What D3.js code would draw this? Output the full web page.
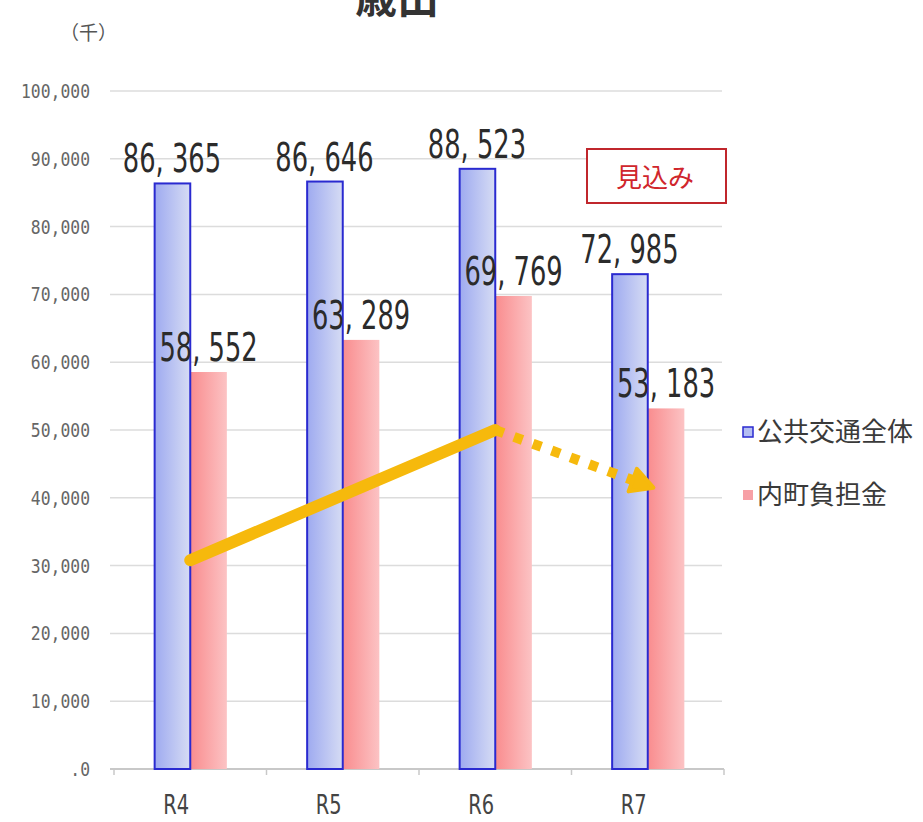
<!DOCTYPE html>
<html><head><meta charset="utf-8">
<script src="https://cdn.jsdelivr.net/npm/d3@7"></script>
<style>
html,body{margin:0;padding:0;background:#fff;}
svg{display:block;}
</style></head>
<body>
<script>
const categories = ["R4","R5","R6","R7"];
const seriesNames = ["公共交通全体","内町負担金"];
const totalValues = [86365, 86646, 88523, 72985];
const burdenValues = [58552, 63289, 69769, 53183];
const yTicks = [0,10000,20000,30000,40000,50000,60000,70000,80000,90000,100000];
const yTickLabels = [".0","10,000","20,000","30,000","40,000","50,000","60,000","70,000","80,000","90,000","100,000"];
const trendCats = ["R4","R6","R7"];
const trendValues = [30800, 50000, 41800];
const title = "歳出";
const unitLabel = "（千）";
const noteLabel = "見込み";

const W = 923, H = 822;
const svg = d3.select("body").append("svg").attr("width", W).attr("height", H);
const defs = svg.append("defs");
const gb = defs.append("linearGradient").attr("id","gBlue").attr("x1","0").attr("x2","1").attr("y1","0").attr("y2","0");
gb.append("stop").attr("offset","0").attr("stop-color","#9eaaf0");
gb.append("stop").attr("offset","1").attr("stop-color","#d6dcf4");
const gp = defs.append("linearGradient").attr("id","gPink").attr("x1","0").attr("x2","1").attr("y1","0").attr("y2","0");
gp.append("stop").attr("offset","0").attr("stop-color","#f98c8e");
gp.append("stop").attr("offset","1").attr("stop-color","#fcc3c4");

const y = d3.scaleLinear().domain([0,100000]).range([769,91]);
const x = d3.scaleBand().domain(categories).range([114,724]).paddingInner(0.52).paddingOuter(0.26);
const xs = d3.scaleBand().domain(seriesNames).range([0, x.bandwidth()]);

// Title (cut off at top, as in the reference)
svg.append("text").attr("x",397).attr("y",13).attr("text-anchor","middle")
  .attr("font-family","Noto Sans CJK JP").attr("font-weight","bold").attr("font-size",42)
  .attr("fill","#333").text(title);
svg.append("text").attr("x",60).attr("y",40)
  .attr("font-family","Noto Sans CJK JP").attr("font-size",19).attr("fill","#555").text(unitLabel);

// gridlines
svg.append("g").selectAll("line").data(yTicks.slice(1)).join("line")
  .attr("x1",110).attr("x2",722).attr("y1",d=>y(d)).attr("y2",d=>y(d))
  .attr("stroke","#dcdcdc").attr("stroke-width",1.5);

// y labels
svg.append("g").selectAll("text").data(yTicks).join("text")
  .attr("transform",(d)=>`translate(90,${y(d)+7}) scale(0.82,1)`)
  .attr("text-anchor","end").attr("font-family","DejaVu Sans Mono").attr("font-size",20)
  .attr("fill","#666").text((d,i)=>yTickLabels[i]);

// x axis
const xAxis = d3.axisBottom(x).tickSize(0).tickFormat("");
const gx = svg.append("g").attr("transform","translate(0,769)").call(xAxis);
gx.select(".domain").attr("stroke","#c8c8c8").attr("stroke-width",2).attr("d","M110,0H724");
const bounds = categories.map(c=>x(c)-x.step()*x.paddingInner()/2).concat([x("R7")+x.bandwidth()+x.step()*x.paddingInner()/2]);
svg.append("g").selectAll("line").data(bounds).join("line")
  .attr("x1",d=>d).attr("x2",d=>d).attr("y1",769).attr("y2",775).attr("stroke","#c8c8c8").attr("stroke-width",1.5);
svg.append("g").selectAll("text").data(categories).join("text")
  .attr("transform",d=>`translate(${x(d)+x.bandwidth()/2-14},814) scale(0.72,1)`)
  .attr("text-anchor","middle").attr("font-family","DejaVu Sans").attr("font-size",27)
  .attr("fill","#444").text(d=>d);

// bars
const data = categories.map((c,i)=>({c, vals:[totalValues[i], burdenValues[i]]}));
const groups = svg.append("g").selectAll("g").data(data).join("g")
  .attr("transform",d=>`translate(${x(d.c)},0)`);
groups.append("rect")
  .attr("x",xs(seriesNames[1])).attr("width",xs.bandwidth())
  .attr("y",d=>y(d.vals[1])).attr("height",d=>y(0)-y(d.vals[1]))
  .attr("fill","url(#gPink)");
groups.append("rect")
  .attr("x",xs(seriesNames[0])+1).attr("width",xs.bandwidth()-1)
  .attr("y",d=>y(d.vals[0])).attr("height",d=>y(0)-y(d.vals[0]))
  .attr("fill","url(#gBlue)").attr("stroke","#2a2ad0").attr("stroke-width",2);

// trend line
const tp = trendCats.map((c,i)=>[x(c)+x.bandwidth()/2, y(trendValues[i])]);
const yellow = "#f6b90c";
svg.append("line").attr("x1",tp[0][0]).attr("y1",tp[0][1]).attr("x2",tp[1][0]).attr("y2",tp[1][1])
  .attr("stroke",yellow).attr("stroke-width",12).attr("stroke-linecap","round");
const dx = tp[2][0]-tp[1][0], dy = tp[2][1]-tp[1][1];
const len = Math.hypot(dx,dy), ux = dx/len, uy = dy/len;
const headLen = 22;
svg.append("line").attr("x1",tp[1][0]).attr("y1",tp[1][1])
  .attr("x2",tp[2][0]-ux*headLen*0.7).attr("y2",tp[2][1]-uy*headLen*0.7)
  .attr("stroke",yellow).attr("stroke-width",10).attr("stroke-dasharray","9,11");
const tip = [tp[2][0]+ux*6, tp[2][1]+uy*6];
const base = [tip[0]-ux*headLen, tip[1]-uy*headLen];
svg.append("path").attr("d",`M${tip[0]},${tip[1]}L${base[0]-uy*12},${base[1]+ux*12}L${base[0]+uy*12},${base[1]-ux*12}Z`)
  .attr("fill",yellow).attr("stroke",yellow).attr("stroke-width",4).attr("stroke-linejoin","round");

// value labels
const lbl = [];
data.forEach(d=>{ d.vals.forEach((v,j)=>lbl.push({c:d.c, v, j})); });
const fmt = v => d3.format(",")(v).replace(",", ", ");
svg.append("g").selectAll("text").data(lbl).join("text")
  .attr("transform",d=>`translate(${x(d.c)+xs(seriesNames[d.j])+xs.bandwidth()/2},${y(d.v)-11}) scale(0.66,1)`)
  .attr("text-anchor","middle").attr("font-family","DejaVu Sans").attr("font-size",39)
  .attr("fill","#2b2b2b").text(d=>fmt(d.v));

// note box
svg.append("rect").attr("x",587).attr("y",149).attr("width",139).attr("height",54)
  .attr("fill","#fff").attr("stroke","#c0262c").attr("stroke-width",2);
svg.append("text").attr("x",655).attr("y",187).attr("text-anchor","middle")
  .attr("font-family","Noto Sans CJK JP").attr("font-size",26).attr("fill","#d0262c").text(noteLabel);

// legend
const lg = svg.append("g");
const legItems = [{n:seriesNames[0], fill:"#b4bef2", stroke:"#2a2ad0", yy:432},{n:seriesNames[1], fill:"#f7a0a6", stroke:"none", yy:495}];
legItems.forEach(it=>{
  lg.append("rect").attr("x",743).attr("y",it.yy-5).attr("width",10).attr("height",10)
    .attr("fill",it.fill).attr("stroke",it.stroke).attr("stroke-width",1.5);
  lg.append("text").attr("x",757).attr("y",it.yy+9).attr("font-family","Noto Sans CJK JP")
    .attr("font-size",26).attr("fill","#3a3a3a").text(it.n);
});
</script>
</body></html>
